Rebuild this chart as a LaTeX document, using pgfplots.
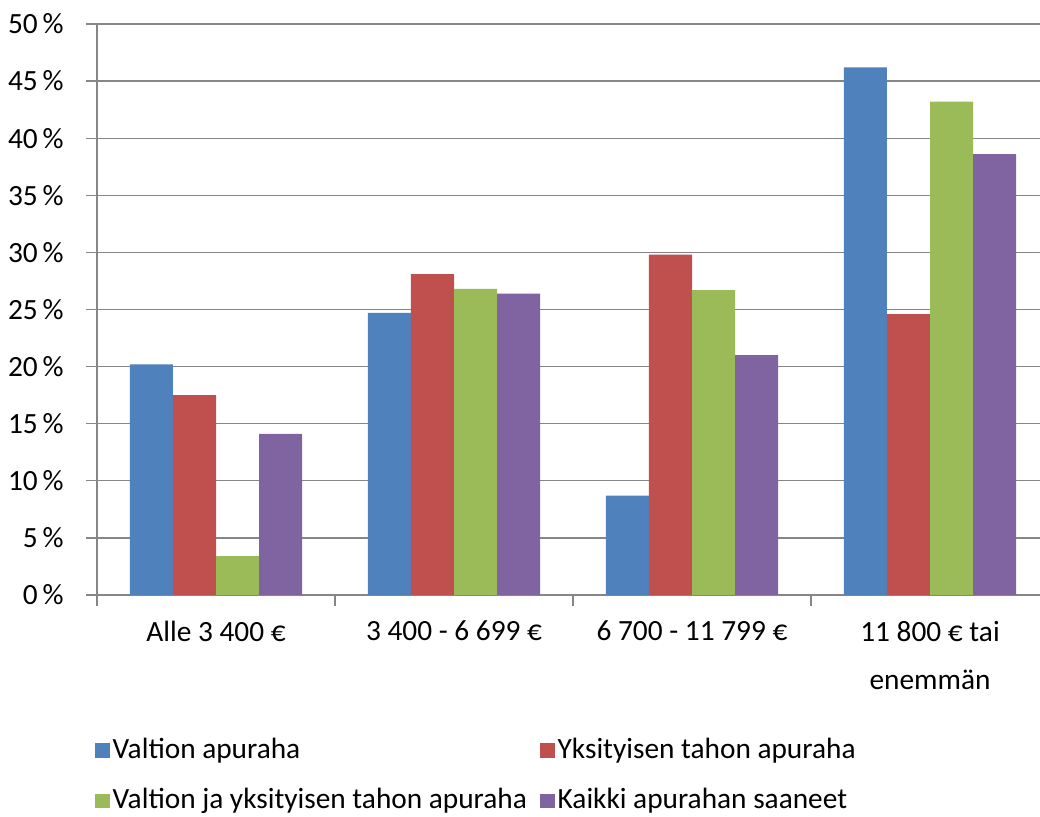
\documentclass[border=0pt]{standalone}
\usepackage{pgfplots}
\pgfplotsset{compat=1.18}
\usepackage{fontspec}
\setmainfont{Carlito}
\definecolor{cblue}{HTML}{4F81BD}
\definecolor{cred}{HTML}{C0504D}
\definecolor{cgreen}{HTML}{9BBB59}
\definecolor{cpurple}{HTML}{8064A2}
\definecolor{gridc}{HTML}{868686}
\begin{document}
\fontsize{22}{27}\selectfont
\begin{tikzpicture}
\begin{axis}[
  at={(0,0)}, anchor=south west,
  scale only axis, width=707.25pt, height=428.25pt,
  ymin=0, ymax=50, ytick={0,5,...,50},
  xmin=-0.5, xmax=3.462,
  ybar=0pt, bar width=32.3pt,
  axis x line*=bottom, axis y line*=left,
  axis line style={draw=gridc, line width=1pt, -},
  ymajorgrids, grid style={draw=gridc, line width=1pt},
  major tick length=8pt, tick align=outside,
  tick style={draw=gridc, line width=1pt},
  xtick={-0.5,0.5,1.5,2.5,3.5}, xticklabels={},
  extra x ticks={0,1,2,3},
  extra x tick labels={Alle 3 400 €, 3 400 - 6 699 €, 6 700 - 11 799 €, {11 800 € tai\\enemmän}},
  extra x tick style={major tick length=0pt, grid=none, xticklabel style={align=center, yshift=-12pt}},
  /pgf/number format/assume math mode=true,
  yticklabel={\pgfmathprintnumber{\tick}\,\%},
  yticklabel style={xshift=-9.5pt},
  ticklabel style={font=\fontsize{22}{36}\selectfont, text=black},
  legend style={at={(-0.002,-0.245)}, anchor=north west, draw=none, fill=none,
    legend columns=2, font=\fontsize{22}{27}\selectfont, inner sep=0pt,
    /tikz/every even column/.append style={column sep=8pt}, row sep=15.5pt},
  legend cell align=left,
  legend image code/.code={\fill[#1] (0pt,-5.5pt) rectangle (11pt,5.5pt);},
]
\addplot[fill=cblue, draw=none] coordinates {(0,20.2) (1,24.7) (2,8.7) (3,46.2)};
\addplot[fill=cred, draw=none] coordinates {(0,17.5) (1,28.1) (2,29.8) (3,24.6)};
\addplot[fill=cgreen, draw=none] coordinates {(0,3.4) (1,26.8) (2,26.7) (3,43.2)};
\addplot[fill=cpurple, draw=none] coordinates {(0,14.1) (1,26.4) (2,21.0) (3,38.6)};
\legend{Valtion apuraha, Yksityisen tahon apuraha, Valtion ja yksityisen tahon apuraha, Kaikki apurahan saaneet}
\end{axis}
\pgfresetboundingbox
\path (-72.75pt,-166.5pt) rectangle (707.25pt,446.25pt);
\end{tikzpicture}
\end{document}
